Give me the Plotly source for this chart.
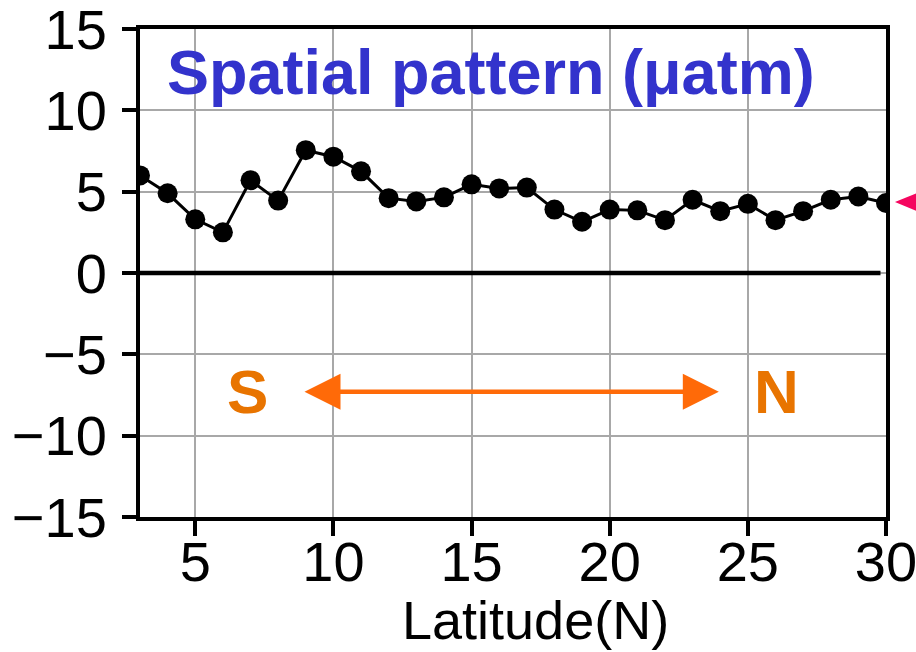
import plotly.graph_objects as go

latitude = list(range(3, 31))
spatial = [6.0, 4.9, 3.3, 2.5, 5.7, 4.45, 7.55, 7.15, 6.25, 4.6, 4.4, 4.65, 5.45,
           5.2, 5.25, 3.9, 3.15, 3.9, 3.85, 3.25, 4.5, 3.8, 4.25, 3.25, 3.8, 4.5, 4.7, 4.3]
x_ticks = [5, 10, 15, 20, 25, 30]
y_ticks = [15, 10, 5, 0, -5, -10, -15]
y_ticklabels = ["15", "10", "5", "0", "\u22125", "\u221210", "\u221215"]

TICK_FONT = dict(family="Liberation Sans, Arial, sans-serif", size=56, color="black")

fig = go.Figure()
fig.add_trace(go.Scatter(
    x=latitude, y=spatial, mode="lines+markers",
    line=dict(color="black", width=3),
    marker=dict(color="black", size=20),
    showlegend=False, cliponaxis=True,
))

fig.update_xaxes(
    range=[3, 30], tickvals=x_ticks, ticktext=[str(v) for v in x_ticks],
    showline=True, mirror=True, linecolor="black", linewidth=4,
    ticks="outside", ticklen=15, tickwidth=4, tickcolor="black",
    showgrid=True, gridcolor="#a8a8a8", gridwidth=1.5,
    zeroline=False, tickfont=TICK_FONT, ticklabeloverflow="allow",
    ticklabelstandoff=-22, automargin=False,
)
fig.update_yaxes(
    range=[-15, 15], tickvals=y_ticks, ticktext=y_ticklabels,
    showline=True, mirror=True, linecolor="black", linewidth=4,
    ticks="outside", ticklen=14, tickwidth=4, tickcolor="black",
    showgrid=True, gridcolor="#a8a8a8", gridwidth=1.5,
    zeroline=False, tickfont=TICK_FONT, ticklabelstandoff=4,
    ticklabeloverflow="allow", automargin=False,
)

# zero line
fig.add_shape(type="line", xref="x", yref="y", x0=3, x1=29.8, y0=0, y1=0,
              line=dict(color="black", width=4.5))

# pink marker on right
fig.add_shape(type="path", xref="paper", yref="y",
              path="M 1.012,4.36 L 1.06,5.25 L 1.06,3.45 Z",
              fillcolor="#f5065f", line=dict(width=0))

# S <-> N arrow
fig.add_annotation(x=23.95, y=-7.3, ax=8.9, ay=-7.3, xref="x", yref="y",
                   axref="x", ayref="y", text="", showarrow=True,
                   arrowside="end+start", arrowhead=2, arrowsize=1.6,
                   arrowwidth=4.5, arrowcolor="#ff6a08")
fig.add_annotation(x=6.9, y=-7.3, xref="x", yref="y", text="<b>S</b>", showarrow=False,
                   font=dict(family="Liberation Sans, Arial, sans-serif", size=62, color="#e87400"))
fig.add_annotation(x=26.05, y=-7.3, xref="x", yref="y", text="<b>N</b>", showarrow=False,
                   font=dict(family="Liberation Sans, Arial, sans-serif", size=62, color="#e87400"))

# title inside plot
fig.add_annotation(x=3.9, y=12.35, xref="x", yref="y", xanchor="left", yanchor="middle",
                   text="<b>Spatial pattern (\u03bcatm)</b>", showarrow=False,
                   font=dict(family="Liberation Sans, Arial, sans-serif", size=63, color="#3333cc"))

# x axis title
fig.add_annotation(x=(535 - 140) / 746, y=(517 - 620) / 488, xref="paper", yref="paper",
                   xanchor="center", yanchor="middle", text="Latitude(N)", showarrow=False,
                   font=dict(family="Liberation Sans, Arial, sans-serif", size=54, color="black"))

fig.update_layout(
    width=916, height=652,
    margin=dict(l=140, r=30, t=29, b=135, autoexpand=False),
    paper_bgcolor="white", plot_bgcolor="white",
    showlegend=False,
)

fig.write_html("out.html")
